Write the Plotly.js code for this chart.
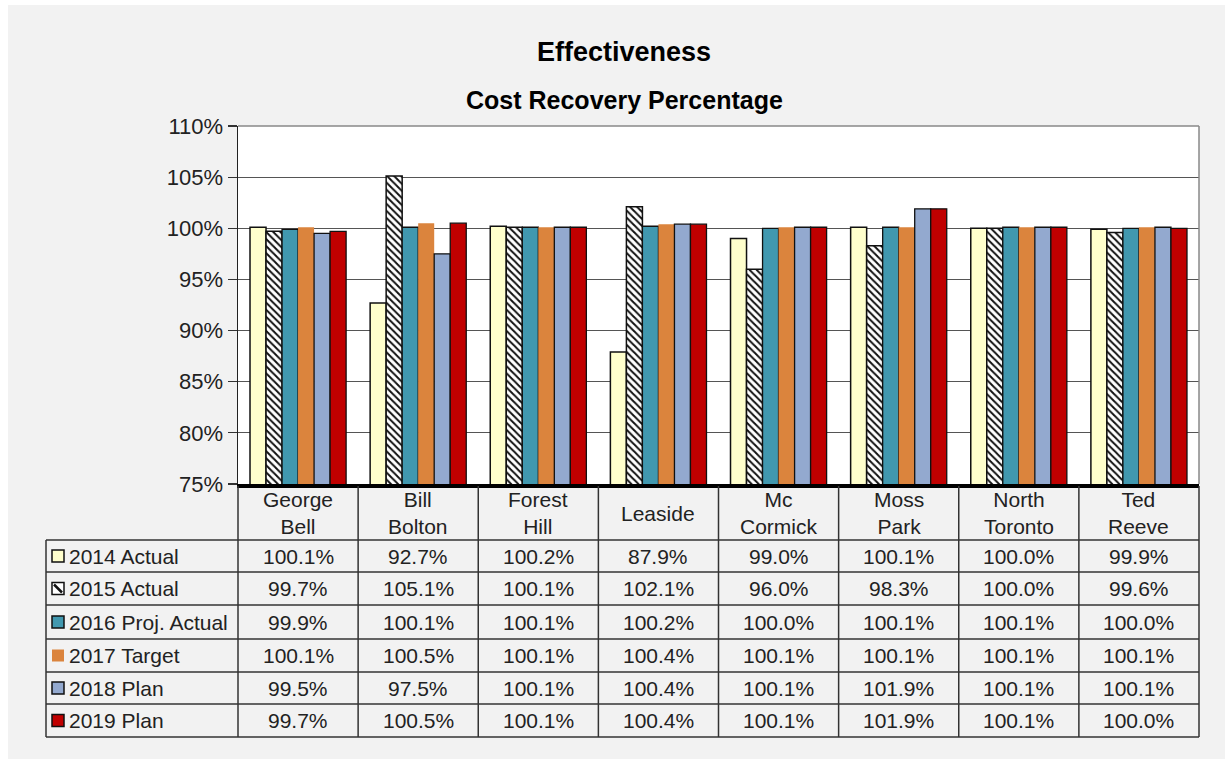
<!DOCTYPE html>
<html>
<head>
<meta charset="utf-8">
<script src="https://cdn.plot.ly/plotly-3.0.1.min.js"></script>
<style>
  html, body { margin: 0; padding: 0; background: #ffffff; }
  #chart { position: absolute; left: 8px; top: 5px; width: 1217px; height: 754px; }
</style>
</head>
<body>
<div id="chart"></div>
<script>
// ---- data ----
const categories = ["George Bell", "Bill Bolton", "Forest Hill", "Leaside", "Mc Cormick", "Moss Park", "North Toronto", "Ted Reeve"];
const headerLabels = ["George<br>Bell", "Bill<br>Bolton", "Forest<br>Hill", "Leaside", "Mc<br>Cormick", "Moss<br>Park", "North<br>Toronto", "Ted<br>Reeve"];
const seriesNames = ["2014 Actual", "2015 Actual", "2016 Proj. Actual", "2017 Target", "2018 Plan", "2019 Plan"];
const actual2014 = [100.1, 92.7, 100.2, 87.9, 99.0, 100.1, 100.0, 99.9];
const actual2015 = [99.7, 105.1, 100.1, 102.1, 96.0, 98.3, 100.0, 99.6];
const projActual2016 = [99.9, 100.1, 100.1, 100.2, 100.0, 100.1, 100.1, 100.0];
const target2017 = [100.1, 100.5, 100.1, 100.4, 100.1, 100.1, 100.1, 100.1];
const plan2018 = [99.5, 97.5, 100.1, 100.4, 100.1, 101.9, 100.1, 100.1];
const plan2019 = [99.7, 100.5, 100.1, 100.4, 100.1, 101.9, 100.1, 100.0];
const yTickVals = [0.75, 0.80, 0.85, 0.90, 0.95, 1.00, 1.05, 1.10];

// ---- styles ----
const seriesValues = [actual2014, actual2015, projActual2016, target2017, plan2018, plan2019];
const fills = ["#FFFFCC", "#FFFFFF", "#4198AF", "#DB843D", "#93A9CF", "#C00000"];
const lineW = [1.5, 1.5, 1.3, 0, 1.3, 1.3];

const traces = seriesValues.map((vals, i) => {
  const marker = { color: fills[i], line: { color: i === 3 ? fills[i] : "#111", width: lineW[i] } };
  if (i === 1) {
    marker.pattern = { shape: "\\", fgcolor: "#111", bgcolor: "#ffffff", size: 5, solidity: 0.4 };
  }
  return {
    type: "bar",
    name: seriesNames[i],
    x: categories,
    y: vals.map(v => v / 100),
    marker: marker,
    hoverinfo: "x+y+name"
  };
});

// pixel (image) -> paper helpers
const PL = 238, PR = 1199, PT = 126, PB = 484;
const X = px => (px - PL) / (PR - PL);
const Y = py => (PB - py) / (PB - PT);

const FONT = "Liberation Sans, Arial, sans-serif";
const TFS = 21;
const shapes = [];
const annotations = [];

// plot border (top and right)
shapes.push({ type: "line", xref: "paper", yref: "paper", x0: 0, x1: 1, y0: 1, y1: 1, line: { color: "#888", width: 1.5 } });
shapes.push({ type: "line", xref: "paper", yref: "paper", x0: 1, x1: 1, y0: 0, y1: 1, line: { color: "#888", width: 1.5 } });

// table geometry
const colW = (PR - PL) / categories.length;
const rowLines = [540, 572, 605, 639, 672, 704, 737];
const legLeft = 46;
const tcol = "#333";
for (let k = 0; k <= categories.length; k++) {
  const px = PL + k * colW;
  shapes.push({ type: "line", xref: "paper", yref: "paper", x0: X(px), x1: X(px), y0: Y(486), y1: Y(737), line: { color: tcol, width: 1.5 } });
}
shapes.push({ type: "line", xref: "paper", yref: "paper", x0: X(legLeft), x1: X(legLeft), y0: Y(540), y1: Y(737), line: { color: tcol, width: 1.5 } });
rowLines.forEach(py => {
  shapes.push({ type: "line", xref: "paper", yref: "paper", x0: X(legLeft), x1: X(PR), y0: Y(py), y1: Y(py), line: { color: tcol, width: 1.5 } });
});

// header labels
headerLabels.forEach((lab, k) => {
  annotations.push({ xref: "paper", yref: "paper", x: X(PL + (k + 0.5) * colW), y: Y(513), text: lab, showarrow: false,
    xanchor: "center", yanchor: "middle", font: { family: FONT, size: TFS, color: "#222" } });
});

// rows
seriesValues.forEach((vals, i) => {
  const yc = (rowLines[i] + rowLines[i + 1]) / 2;
  const kx0 = 52, kx1 = 64, ky0 = yc - 6, ky1 = yc + 6;
  shapes.push({ type: "rect", xref: "paper", yref: "paper", x0: X(kx0), x1: X(kx1), y0: Y(ky1), y1: Y(ky0),
    fillcolor: i === 1 ? "#ffffff" : fills[i], line: { color: i === 3 ? fills[i] : "#111", width: i === 3 ? 0 : 1.5 } });
  if (i === 1) {
    shapes.push({ type: "line", xref: "paper", yref: "paper", x0: X(kx0 + 2), x1: X(kx1 - 2), y0: Y(ky0 + 2), y1: Y(ky1 - 2), line: { color: "#111", width: 2.5 } });
  }
  annotations.push({ xref: "paper", yref: "paper", x: X(67), y: Y(yc), text: seriesNames[i], showarrow: false,
    xanchor: "left", yanchor: "middle", font: { family: FONT, size: TFS, color: "#222" } });
  vals.forEach((v, k) => {
    annotations.push({ xref: "paper", yref: "paper", x: X(PL + (k + 0.5) * colW), y: Y(yc), text: v.toFixed(1) + "%", showarrow: false,
      xanchor: "center", yanchor: "middle", font: { family: FONT, size: TFS, color: "#222" } });
  });
});

// titles
annotations.push({ xref: "paper", yref: "paper", x: X(624), y: Y(52), text: "<b>Effectiveness</b>", showarrow: false,
  xanchor: "center", yanchor: "middle", font: { family: FONT, size: 27, color: "#000" } });
annotations.push({ xref: "paper", yref: "paper", x: X(624), y: Y(100), text: "<b>Cost Recovery Percentage</b>", showarrow: false,
  xanchor: "center", yanchor: "middle", font: { family: FONT, size: 25, color: "#000" } });

const layout = {
  width: 1217, height: 754,
  margin: { l: PL - 8, r: 1225 - PR, t: PT - 5, b: 759 - PB },
  paper_bgcolor: "#F2F2F2",
  plot_bgcolor: "#FFFFFF",
  showlegend: false,
  barmode: "group",
  bargap: 0.2,
  bargroupgap: 0,
  font: { family: FONT, color: "#222" },
  xaxis: {
    type: "category",
    range: [-0.5, 7.5],
    showticklabels: false,
    ticks: "",
    showgrid: false,
    showline: true, linecolor: "#000", linewidth: 3.5,
    zeroline: false, fixedrange: true
  },
  yaxis: {
    range: [0.75, 1.10],
    tickvals: yTickVals,
    tickformat: ".0%",
    ticks: "outside", ticklen: 9, tickwidth: 1.2, tickcolor: "#333",
    tickfont: { family: FONT, size: 22, color: "#222" },
    showgrid: true, gridcolor: "#555", gridwidth: 1,
    showline: true, linecolor: "#222", linewidth: 1.5,
    zeroline: false, fixedrange: true
  },
  shapes: shapes,
  annotations: annotations
};

Plotly.newPlot("chart", traces, layout, { displayModeBar: false, staticPlot: true });
</script>
</body>
</html>
